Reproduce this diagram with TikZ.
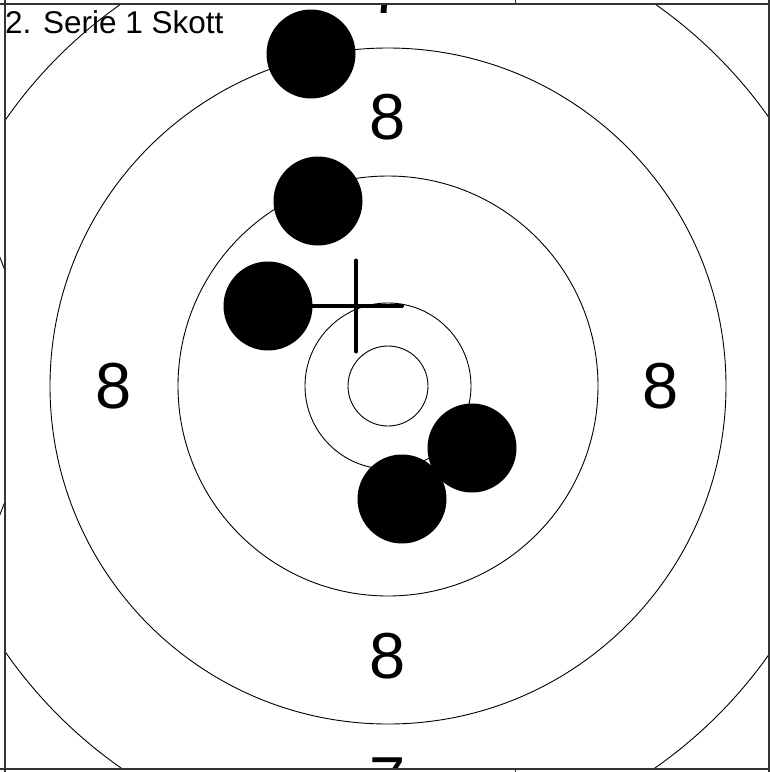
\documentclass[tikz,border=0pt]{standalone}
\usepackage{fontspec}
\setmainfont{Liberation Sans}
\usetikzlibrary{positioning}
\tikzset{
  ring/.style={draw=black,line width=0.9pt},
  cellline/.style={draw=black!80,line width=1.6pt},
  tick/.style={draw=black!80,line width=1pt},
  hole/.style={circle,fill=black,inner sep=0pt,minimum size=89pt},
  score/.style={inner sep=0pt,font=\fontsize{65}{65}\selectfont},
  aimline/.style={line width=4pt,line cap=round},
  heading/.style={anchor=base west,inner sep=0pt,font=\fontsize{31.5}{32}\selectfont}
}
\begin{document}
\begin{tikzpicture}[x=1pt,y=-1pt]
    \path[use as bounding box] (0,0) rectangle (770,772);
    \coordinate (target) at (388,386);
    \coordinate (aim) at (356,306);

    % rings, scores and shots inside the cell
    \begin{scope}
      \clip (5,4) rectangle (769,769);
      \foreach \r in {40,83,210,338,466}
        \draw[ring] (target) circle[radius=\r];
      \node[score] (s8top) at (388,117) {8};
      \node[score] (s8left) at (114,386) {8};
      \node[score] (s8right) at (661,386) {8};
      \node[score] (s8bottom) at (388,656) {8};
      \node[score] (s7top) at (388,-8.5) {7};
      \node[score] (s7bottom) at (388,780.5) {7};
      \node[hole] (shot1) at (311,54) {};
      \node[hole] (shot2) at (318,201) {};
      \node[hole] (shot3) at (268,306) {};
      \node[hole] (shot4) at (472,448) {};
      \node[hole] (shot5) at (402,499) {};
      \draw[aimline] ([xshift=-46pt]aim) -- ([xshift=46pt]aim);
      \draw[aimline] ([yshift=45.5pt]aim) -- ([yshift=-45.5pt]aim);
    \end{scope}

    % ring of the next cell, left of this one
    \begin{scope}
      \clip (0,0) rectangle (5,772);
      \draw[ring] (-316,386) circle[radius=341];
    \end{scope}

    \node[heading] (title) at (5,33) {2. Serie 1 Skott};

    % cell borders
    \draw[cellline] (5,0) -- (5,772);
    \draw[cellline] (769,0) -- (769,772);
    \draw[cellline] (0,4) -- (770,4);
    \draw[cellline] (0,769) -- (770,769);
    \draw[tick] (515,0) -- (515,4);
    \draw[tick] (515,769) -- (515,772);
\end{tikzpicture}
\end{document}
